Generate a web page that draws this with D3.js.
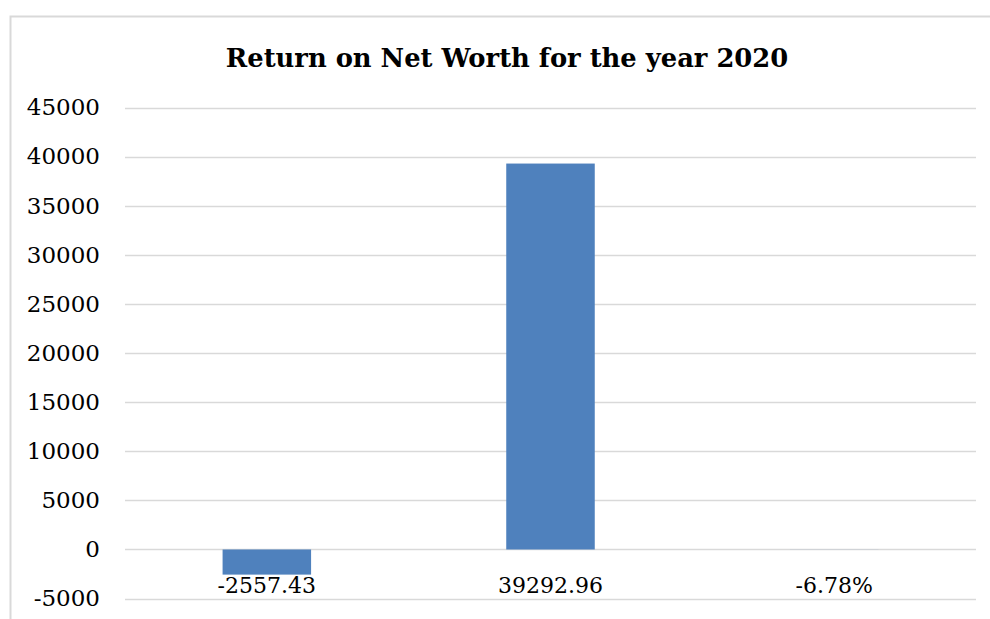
<!DOCTYPE html>
<html>
<head>
<meta charset="utf-8">
<script src="https://cdn.jsdelivr.net/npm/d3@7"></script>
<style>
  body { margin: 0; background: #fff; }
  svg text { font-family: "DejaVu Serif", serif; fill: #000; }
</style>
</head>
<body>
<div id="chart"></div>
<script>
const categories = ["-2557.43", "39292.96", "-6.78%"];
const values = [-2557.43, 39292.96, -6.78];
const yTicks = [-5000, 0, 5000, 10000, 15000, 20000, 25000, 30000, 35000, 40000, 45000];
const title = "Return on Net Worth for the year 2020";

const width = 990;
const height = 619;
const margin = { left: 125, right: 14, top: 107.5, bottom: 20.4 };

const svg = d3.select("#chart")
  .append("svg")
  .attr("width", width)
  .attr("height", height);

// chart frame (cut off at right and bottom like the original)
svg.append("rect")
  .attr("x", 10.5)
  .attr("y", 16.5)
  .attr("width", width)
  .attr("height", height)
  .attr("fill", "#fff")
  .attr("stroke", "#d9d9d9")
  .attr("stroke-width", 2);

const x = d3.scaleBand()
  .domain(categories)
  .range([margin.left, width - margin.right])
  .paddingInner(0.688)
  .paddingOuter(0.344);

const y = d3.scaleLinear()
  .domain([-5000, 45000])
  .range([height - margin.bottom, margin.top]);

// gridlines
svg.append("g")
  .selectAll("line")
  .data(yTicks)
  .enter()
  .append("line")
  .attr("x1", margin.left)
  .attr("x2", width - margin.right)
  .attr("y1", d => Math.round(y(d)) + 0.5)
  .attr("y2", d => Math.round(y(d)) + 0.5)
  .attr("stroke", "#d9d9d9")
  .attr("stroke-width", 1.5);

// y labels
const yAxis = d3.axisLeft(y).tickValues(yTicks).tickSize(0).tickPadding(0)
  .tickFormat(d => String(d));
svg.append("g")
  .attr("transform", "translate(100,0)")
  .call(yAxis)
  .call(g => g.select(".domain").remove())
  .selectAll("text")
  .attr("font-family", "DejaVu Serif")
  .attr("font-size", 23)
  .attr("fill", "#000");

// bars
svg.append("g")
  .selectAll("rect")
  .data(values)
  .enter()
  .append("rect")
  .attr("x", (d, i) => x(categories[i]))
  .attr("width", x.bandwidth())
  .attr("y", d => y(Math.max(0, d)))
  .attr("height", d => Math.abs(y(d) - y(0)))
  .attr("fill", "#4f81bd");

// category labels
svg.append("g")
  .selectAll("text")
  .data(categories)
  .enter()
  .append("text")
  .attr("x", d => x(d) + x.bandwidth() / 2)
  .attr("y", 593)
  .attr("text-anchor", "middle")
  .attr("font-size", 22)
  .text(d => d);

svg.append("text")
  .attr("x", 507)
  .attr("y", 67)
  .attr("text-anchor", "middle")
  .attr("font-size", 25.8)
  .attr("font-weight", "bold")
  .text(title);
</script>
</body>
</html>
